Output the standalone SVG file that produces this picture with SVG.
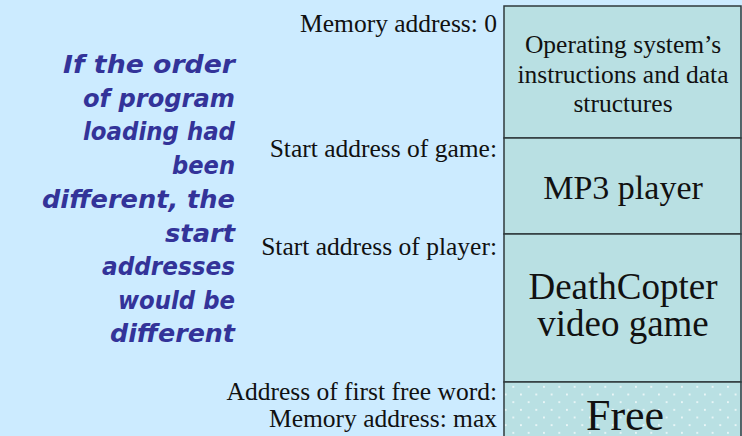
<svg xmlns="http://www.w3.org/2000/svg" width="742" height="436" viewBox="0 0 742 436">
  <defs>
    <style>
      .addr { font-family: "Liberation Serif", "Times New Roman", serif; font-size: 25.5px; fill: #111; text-anchor: end; }
      .seg { font-family: "Liberation Serif", "Times New Roman", serif; fill: #111; text-anchor: middle; }
      .note { font-family: "DejaVu Sans", sans-serif; font-weight: bold; font-style: oblique; font-size: 24px; fill: #333399; text-anchor: end; }
      .block { fill: #b9e0e3; stroke: #2f3a3c; stroke-width: 1.5; }
    </style>
    <!-- sparse white dots marking unallocated memory -->
    <pattern id="freeDots" patternUnits="userSpaceOnUse" x="509.5" y="383" width="15.33" height="15.33">
      <rect width="15.33" height="15.33" fill="#b9e0e3"/>
      <circle cx="3.8" cy="3.8" r="1" fill="#ffffff" fill-opacity="0.85"/>
      <circle cx="11.45" cy="11.45" r="1" fill="#ffffff" fill-opacity="0.85"/>
    </pattern>
  </defs>

  <rect width="742" height="436" fill="#ccebff"/>

  <!-- explanatory note -->
  <g id="note" class="note">
    <text x="235" y="73" textLength="172" lengthAdjust="spacingAndGlyphs">If the order</text>
    <text x="235" y="106.5" textLength="152" lengthAdjust="spacingAndGlyphs">of program</text>
    <text x="235" y="140" textLength="152" lengthAdjust="spacingAndGlyphs">loading had</text>
    <text x="235" y="174" textLength="63" lengthAdjust="spacingAndGlyphs">been</text>
    <text x="235" y="207.5" textLength="193" lengthAdjust="spacingAndGlyphs">different, the</text>
    <text x="235" y="241.5" textLength="70" lengthAdjust="spacingAndGlyphs">start</text>
    <text x="235" y="275" textLength="133" lengthAdjust="spacingAndGlyphs">addresses</text>
    <text x="235" y="308.5" textLength="117" lengthAdjust="spacingAndGlyphs">would be</text>
    <text x="235" y="342" textLength="125" lengthAdjust="spacingAndGlyphs">different</text>
  </g>

  <!-- address labels -->
  <g id="addresses" class="addr">
    <text x="497" y="32">Memory address: 0</text>
    <text x="497" y="157">Start address of game:</text>
    <text x="497" y="255">Start address of player:</text>
    <text x="497" y="400">Address of first free word:</text>
    <text x="497" y="427">Memory address: max</text>
  </g>

  <!-- memory column -->
  <g id="os">
    <rect class="block" x="504" y="6" width="237" height="132"/>
    <g class="seg" font-size="25.5">
      <text x="623" y="53">Operating system’s</text>
      <text x="623" y="83">instructions and data</text>
      <text x="623" y="112">structures</text>
    </g>
  </g>

  <g id="mp3">
    <rect class="block" x="504" y="138" width="237" height="96"/>
    <text class="seg" x="623" y="198.5" font-size="34">MP3 player</text>
  </g>

  <g id="game">
    <rect class="block" x="504" y="234" width="237" height="148"/>
    <g class="seg" font-size="37">
      <text x="623" y="299">DeathCopter</text>
      <text x="623" y="336">video game</text>
    </g>
  </g>

  <g id="free">
    <rect x="504" y="382" width="237" height="60" fill="url(#freeDots)" stroke="#2f3a3c" stroke-width="1.5"/>
    <text class="seg" x="625" y="430" font-size="44">Free</text>
  </g>
</svg>
